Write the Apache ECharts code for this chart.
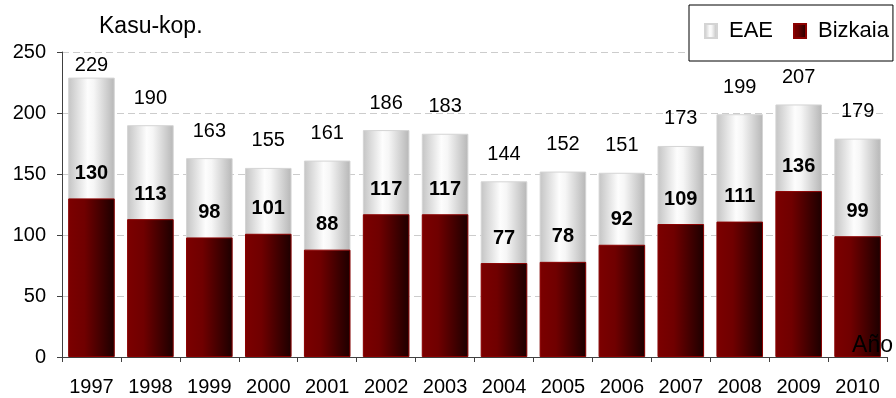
<!DOCTYPE html>
<html>
<head>
<meta charset="utf-8">
<script src="https://cdn.jsdelivr.net/npm/echarts@6/dist/echarts.min.js"></script>
<style>
  html, body { margin: 0; padding: 0; background: #fff; }
  #chart { width: 896px; height: 398px; }
</style>
</head>
<body>
<div id="chart"></div>
<script>
// Cases per year: Basque Country total (EAE) and Bizkaia
const years = ['1997', '1998', '1999', '2000', '2001', '2002', '2003', '2004', '2005', '2006', '2007', '2008', '2009', '2010'];
const eaeCases = [229, 190, 163, 155, 161, 186, 183, 144, 152, 151, 173, 199, 207, 179];
const bizkaiaCases = [130, 113, 98, 101, 88, 117, 117, 77, 78, 92, 109, 111, 136, 99];
const yMin = 0;
const yMax = 250;
const yStep = 50;

const FONT = '"Liberation Sans", Arial, sans-serif';

const grayFill = new echarts.graphic.LinearGradient(0, 0, 1, 0, [
  { offset: 0, color: '#c4c4c4' },
  { offset: 0.42, color: '#fdfdfd' },
  { offset: 0.55, color: '#f6f6f6' },
  { offset: 1, color: '#b6b6b6' }
]);
const redFill = new echarts.graphic.LinearGradient(0, 0, 1, 0, [
  { offset: 0, color: '#7c0000' },
  { offset: 0.35, color: '#700000' },
  { offset: 1, color: '#1c0000' }
]);

const chart = echarts.init(document.getElementById('chart'), null, { renderer: 'canvas' });

const option = {
  animation: false,
  backgroundColor: '#ffffff',
  textStyle: { fontFamily: FONT },
  grid: { left: 62, right: 4, top: 52, bottom: 41, containLabel: false },
  legend: {
    data: ['EAE', 'Bizkaia'],
    left: 689,
    top: 5,
    icon: 'rect',
    itemWidth: 12,
    itemHeight: 14,
    itemGap: 20,
    padding: [15, 4, 19, 15],
    borderColor: '#000',
    borderWidth: 1,
    backgroundColor: '#ffffff',
    textStyle: { fontFamily: FONT, fontSize: 22, color: '#000', padding: [0, 0, 0, 7] }
  },
  xAxis: {
    type: 'category',
    data: years,
    z: 10,
    name: 'Año',
    nameLocation: 'end',
    nameGap: -35,
    nameTextStyle: {
      fontFamily: FONT, fontSize: 23, color: '#000',
      align: 'left', verticalAlign: 'bottom', lineHeight: 23
    },
    axisLine: { lineStyle: { color: '#404040', width: 1 } },
    axisTick: { show: true, length: 5, lineStyle: { color: '#404040' } },
    axisLabel: { margin: 20, fontSize: 20, color: '#000', fontFamily: FONT },
    splitLine: { show: false }
  },
  yAxis: {
    type: 'value',
    min: yMin,
    max: yMax,
    interval: yStep,
    name: 'Kasu-kop.',
    nameLocation: 'end',
    nameGap: 25,
    nameTextStyle: {
      fontFamily: FONT, fontSize: 23, color: '#000',
      align: 'left', verticalAlign: 'middle', padding: [0, 0, 0, 37]
    },
    axisLine: { show: true, lineStyle: { color: '#404040', width: 1 } },
    axisTick: { show: true, length: 5, lineStyle: { color: '#404040' } },
    axisLabel: { margin: 16, fontSize: 20, color: '#000', fontFamily: FONT },
    splitLine: { show: true, lineStyle: { color: '#cccccc', type: [7, 4], width: 1.2 } }
  },
  series: [
    {
      name: 'EAE',
      type: 'bar',
      data: eaeCases,
      barWidth: '79%',
      itemStyle: { color: grayFill, borderColor: '#d4d4d4', borderWidth: 1 },
      label: {
        show: true, position: 'top', distance: 17,
        fontFamily: FONT, fontSize: 20, color: '#000'
      }
    },
    {
      name: 'Bizkaia',
      type: 'bar',
      data: bizkaiaCases,
      barWidth: '79%',
      barGap: '-100%',
      itemStyle: { color: redFill, borderColor: '#8c0000', borderWidth: 1 },
      label: {
        show: true, position: 'top', distance: 15,
        fontFamily: FONT, fontSize: 20, fontWeight: 'bold', color: '#000'
      }
    }
  ]
};

chart.setOption(option);

// Keep the total labels inside the plot area: shrink the gap when a bar
// reaches close to the top of the value axis.
const plotTop = chart.convertToPixel({ yAxisIndex: 0 }, yMax);
const eaeItems = eaeCases.map(function (v) {
  const barTop = chart.convertToPixel({ yAxisIndex: 0 }, v);
  const room = barTop - plotTop - 3 - 20;
  return { value: v, label: { distance: Math.max(2, Math.min(17, room)) } };
});
chart.setOption({ series: [{ name: 'EAE', data: eaeItems }] });
</script>
</body>
</html>
